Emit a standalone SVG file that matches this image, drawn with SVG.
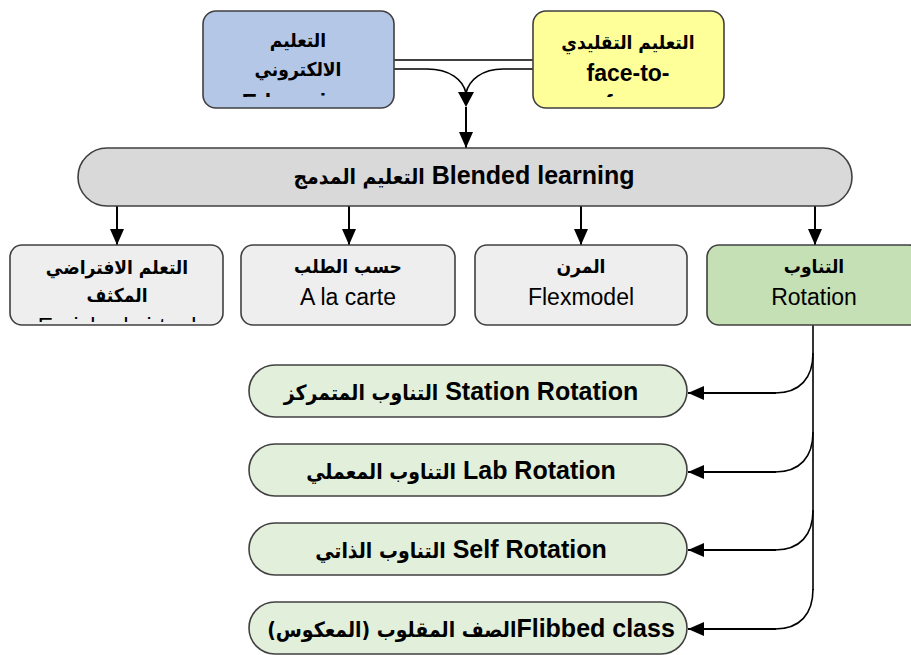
<svg xmlns="http://www.w3.org/2000/svg" width="911" height="655" viewBox="0 0 911 655">
<defs>
<style>
.box{stroke:#404040;stroke-width:1.6}
.t{font-family:'Liberation Sans','DejaVu Sans',sans-serif;fill:#000;text-anchor:middle}
.a{font-family:'DejaVu Sans Condensed','DejaVu Sans',sans-serif;font-weight:bold}
.b{font-weight:bold}
.ar{font-size:19px;font-weight:bold}
.en{font-size:23px}
.enb{font-size:23px;font-weight:bold}
.pill{font-size:25px;font-weight:bold}
.pa{font-size:21px}
.c{fill:none;stroke:#000;stroke-width:1.6}
.ca{fill:none;stroke:#000;stroke-width:2}
</style>
<marker id="ah" viewBox="0 0 16 14" refX="16" refY="7" markerWidth="16" markerHeight="14" markerUnits="userSpaceOnUse" orient="auto">
<path d="M0,0 L16,7 L0,14 Z" fill="#000"/>
</marker>
<clipPath id="cBlue"><rect x="203" y="11" width="191" height="86"/></clipPath>
<clipPath id="cYel"><rect x="533" y="11" width="191" height="86"/></clipPath>
<clipPath id="cVir"><rect x="10" y="245" width="213" height="77"/></clipPath>
</defs>

<g id="connectors">
<path class="c" d="M394,60 H533"/>
<path class="c" d="M394,69 H427 C450,69 463,80 466,93"/>
<path class="c" d="M533,69 H503 C482,69 469,80 466,93"/>
<path d="M458,92 L474,92 L466,107 Z" fill="#000"/>
<path class="ca" d="M466,107 V148" marker-end="url(#ah)"/>
<path class="ca" d="M117,206 V245" marker-end="url(#ah)"/>
<path class="ca" d="M349,206 V245" marker-end="url(#ah)"/>
<path class="ca" d="M581,206 V245" marker-end="url(#ah)"/>
<path class="ca" d="M815,206 V245" marker-end="url(#ah)"/>
<path class="c" d="M813,325 V590"/>
<path class="c" d="M813,353 C813,378 800,393 775,393"/>
<path class="ca" d="M776,393 H688" marker-end="url(#ah)"/>
<path class="c" d="M813,432 C813,457 800,472 775,472"/>
<path class="ca" d="M776,472 H688" marker-end="url(#ah)"/>
<path class="c" d="M813,510 C813,535 800,550 775,550"/>
<path class="ca" d="M776,550 H688" marker-end="url(#ah)"/>
<path class="c" d="M813,589 C813,614 800,629 775,629"/>
<path class="ca" d="M776,629 H688" marker-end="url(#ah)"/>
</g>

<g id="elearning">
<rect class="box" x="203" y="11" width="191" height="97" rx="13" fill="#b4c7e7"/>
<text class="t ar" x="298" y="47"><tspan class="a">التعليم</tspan></text>
<text class="t ar" x="298" y="76"><tspan class="a">الالكتروني</tspan></text>
<text class="t enb" x="298" y="111" clip-path="url(#cBlue)">E-learning</text>
</g>

<g id="traditional">
<rect class="box" x="533" y="11" width="191" height="97" rx="13" fill="#ffff99"/>
<text class="t ar" x="628" y="49"><tspan class="a">التعليم التقليدي</tspan></text>
<text class="t enb" x="628" y="81">face-to-</text>
<text class="t enb" x="628" y="112" clip-path="url(#cYel)">face</text>
</g>

<g id="blended">
<rect class="box" x="78" y="148" width="774" height="58" rx="29" fill="#d9d9d9"/>
<text class="t b" x="464" y="184" style="font-size:25px"><tspan class="a pa">التعليم المدمج</tspan>  Blended learning</text>
</g>

<g id="enriched">
<rect class="box" x="10" y="245" width="213" height="80" rx="12" fill="#eeeeee"/>
<text class="t ar" x="117" y="274"><tspan class="a">التعلم الافتراضي</tspan></text>
<text class="t ar" x="117" y="302"><tspan class="a">المكثف</tspan></text>
<text class="t en" x="117" y="335" clip-path="url(#cVir)">Enriched virtual</text>
</g>

<g id="alacarte">
<rect class="box" x="241" y="245" width="214" height="80" rx="12" fill="#eeeeee"/>
<text class="t ar" x="348" y="273"><tspan class="a">حسب الطلب</tspan></text>
<text class="t en" x="348" y="305">A la carte</text>
</g>

<g id="flex">
<rect class="box" x="475" y="245" width="212" height="80" rx="12" fill="#eeeeee"/>
<text class="t ar" x="581" y="273"><tspan class="a">المرن</tspan></text>
<text class="t en" x="581" y="305">Flexmodel</text>
</g>

<g id="rotation">
<rect class="box" x="707" y="245" width="214" height="80" rx="12" fill="#c5e0b4"/>
<text class="t ar" x="814" y="273"><tspan class="a">التناوب</tspan></text>
<text class="t en" x="814" y="305">Rotation</text>
</g>

<g id="station">
<rect class="box" x="249" y="365" width="438" height="52" rx="26" fill="#e2efda"/>
<text class="t pill" x="461" y="400"><tspan class="a pa">التناوب المتمركز</tspan> Station Rotation</text>
</g>

<g id="lab">
<rect class="box" x="249" y="444" width="438" height="52" rx="26" fill="#e2efda"/>
<text class="t pill" x="461" y="479"><tspan class="a pa">التناوب المعملي</tspan> Lab Rotation</text>
</g>

<g id="self">
<rect class="box" x="249" y="523" width="438" height="52" rx="26" fill="#e2efda"/>
<text class="t pill" x="461" y="558"><tspan class="a pa">التناوب الذاتي</tspan> Self  Rotation</text>
</g>

<g id="flipped">
<rect class="box" x="249" y="602" width="438" height="52" rx="26" fill="#e2efda"/>
<text class="t pill" x="471" y="637"><tspan class="a pa">الصف المقلوب (المعكوس)&#x200F;</tspan>Flibbed class</text>
</g>
</svg>
